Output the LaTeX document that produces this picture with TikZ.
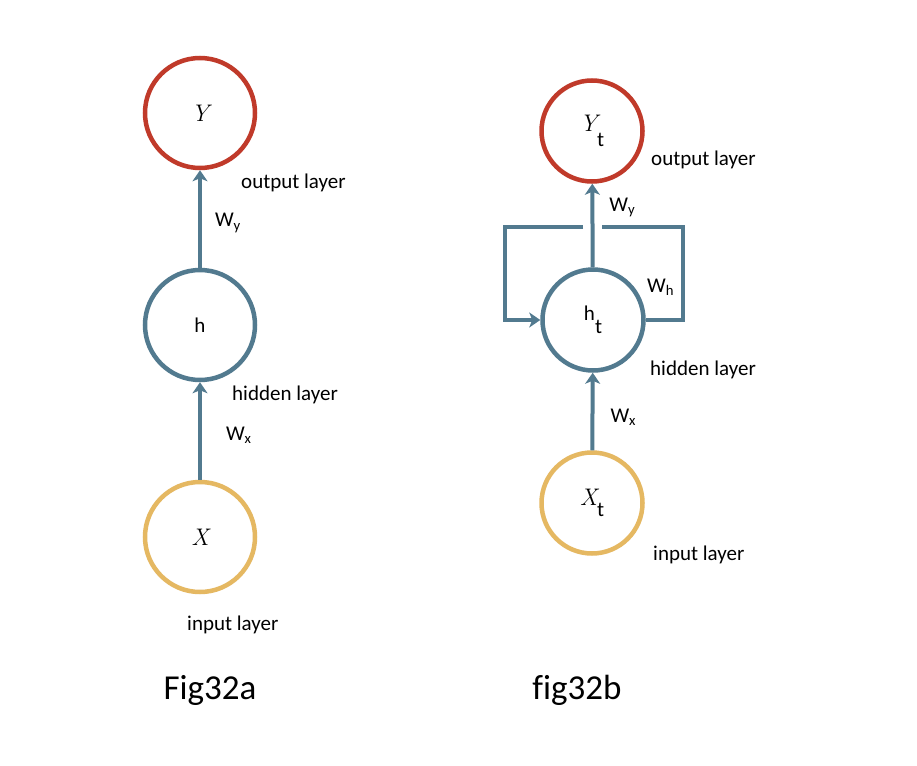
\documentclass[tikz,border=0pt]{standalone}
\usepackage{fontspec}
\setmainfont[Ligatures=NoCommon]{Carlito}
\newfontfamily\lmfont{Latin Modern Roman}
\usetikzlibrary{arrows.meta}

\definecolor{outred}{RGB}{192,58,42}
\definecolor{hidblue}{RGB}{82,122,143}
\definecolor{ingold}{RGB}{229,184,98}

\newcommand{\varit}[1]{{\lmfont\itshape\fontsize{24}{26}\selectfont #1}}

\begin{document}
\begin{tikzpicture}[x=1pt,y=-1pt,>={Stealth[length=11pt,width=15pt,inset=3pt]},
  unit/.style={circle,line width=4.5pt,minimum size=110pt,inner sep=0pt,font=\fontsize{21}{23}\selectfont},
  runit/.style={unit,minimum size=101pt},
  link/.style={line width=4pt,hidblue},
  lbl/.style={anchor=west,inner sep=0pt,text=black,font=\fontsize{21}{23}\selectfont},
  figcap/.style={font=\fontsize{35}{40}\selectfont}]
\fill[white] (0,0) rectangle (917,765);
\useasboundingbox (0,0) rectangle (917,765);

% plain network
\node[unit,draw=outred] (Y) at (200,113) {\varit{Y}};
\node[unit,draw=hidblue] (h) at (200,325) {h};
\node[unit,draw=ingold] (X) at (200,537) {\varit{X}};
\draw[link,->] (h) -- node[lbl,xshift=13pt,yshift=-4pt]{W\textsubscript{y}} (Y);
\draw[link,->] (X) -- node[lbl,xshift=24pt,yshift=-4pt]{W\textsubscript{x}} (h);
\node[lbl] (outa) at (241,183) {output layer};
\node[lbl] (hida) at (232,395) {hidden layer};
\node[lbl] (ina) at (187,625) {input layer};

% recurrent network
\node[runit,draw=outred] (Yt) at (592,131) {\varit{Y}\raisebox{-15pt}{t}};
\node[runit,draw=hidblue] (ht) at (593,320) {h\raisebox{-13pt}{t}};
\node[runit,draw=ingold] (Xt) at (592,503) {\varit{X}\raisebox{-11pt}{t}};
\draw[link,->] (ht) -- node[lbl,pos=0.72,xshift=15pt]{W\textsubscript{y}} (Yt);
\draw[link,->] (Xt) -- node[lbl,xshift=16pt,yshift=-6pt]{W\textsubscript{x}} (ht);
\coordinate (tr) at (683,227);
\coordinate (gr) at (602,227);
\coordinate (gl) at (583,227);
\coordinate (tl) at (505,227);
\draw[link] (ht.east) -| (tr) -- (gr);
\draw[link,->] (gl) -- (tl) |- (ht.west);
\node[lbl] (wh) at (647,287) {W\textsubscript{h}};
\node[lbl] (outb) at (651,160) {output layer};
\node[lbl] (hidb) at (650,370) {hidden layer};
\node[lbl] (inb) at (653,555) {input layer};

\node[figcap] (capa) at (210,690) {Fig32a};
\node[figcap] (capb) at (577,690) {fig32b};
\end{tikzpicture}
\end{document}
